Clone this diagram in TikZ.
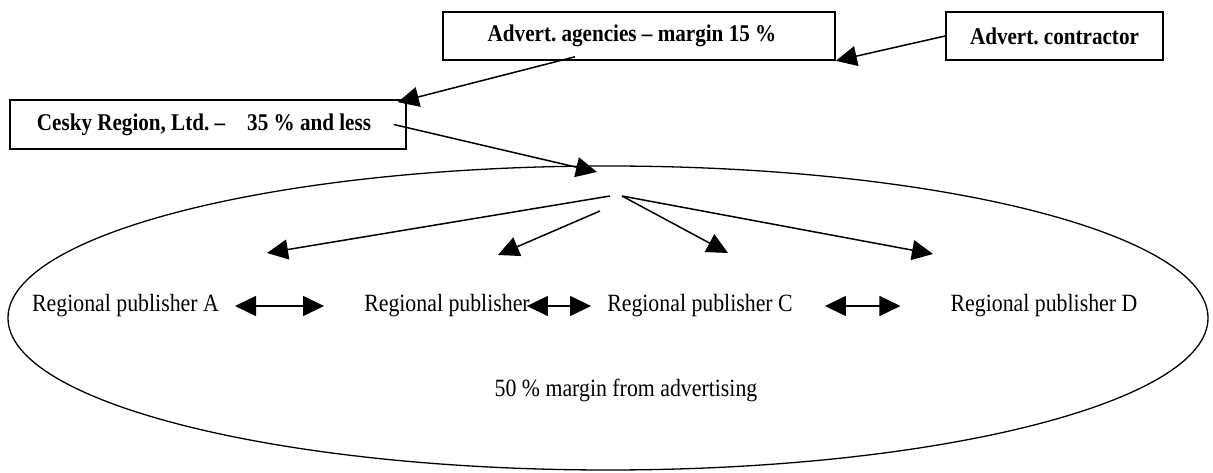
\documentclass[tikz,border=0pt]{standalone}
\usepackage{fontspec}
\setmainfont[FakeStretch=0.88]{Liberation Serif}
\usetikzlibrary{arrows.meta,shapes.geometric}
\frenchspacing

\begin{document}
\begin{tikzpicture}[x=1pt, y=-1pt,
    advbox/.style={rectangle, draw, line width=1.6pt, minimum height=48pt, inner sep=0pt,
                 font=\fontsize{24}{28}\selectfont\bfseries},
    pubtext/.style={inner sep=0pt, font=\fontsize{24.8}{29}\selectfont},
    arr/.style={-{Triangle[length=21pt, width=20pt]}, line width=1.5pt},
    dblarr/.style={{Triangle[length=21pt, width=20pt]}-{Triangle[length=21pt, width=20pt]}, line width=1.5pt},
]
    \useasboundingbox (0,0) rectangle (1213,473);

    % boxes at the top
    \node[advbox, minimum width=392pt] (agencies) at (639,36) {\hspace*{-14pt}Advert. agencies – margin 15 \%};
    \node[advbox, minimum width=217pt] (contractor) at (1054.5,36) {Advert. contractor};
    \node[advbox, minimum width=396pt, minimum height=49pt] (cesky) at (208,124.5)
        {\hspace*{-8pt}Cesky Region, Ltd. –\hspace{22pt}35 \% and less};

    % the region with the publishers
    \node[draw, ellipse, line width=1.3pt, minimum width=1200pt, minimum height=304pt] (region) at (608,318) {};
    \node[pubtext] (pubA) at (125.5,306) {Regional publisher A};
    \node[pubtext] (pubB) at (447,306) {Regional publisher};
    \node[pubtext] (pubC) at (700,306) {Regional publisher C};
    \node[pubtext] (pubD) at (1044,306) {Regional publisher D};
    \node[pubtext] (margin) at (626,390) {50~\% margin from advertising};

    \coordinate (inlet) at (597,172);
    \coordinate (hubA) at (610,196);
    \coordinate (hubB) at (600,211);
    \coordinate (hubC) at (622,196);
    \coordinate (tipA) at (267,253);
    \coordinate (tipB) at (498,255);
    \coordinate (tipC) at (728,253);
    \coordinate (tipD) at (933,254);

    \draw[arr] (contractor.west) -- (agencies.south east);
    \draw[arr] ([xshift=-64pt, yshift=4pt]agencies.south) -- ([xshift=-9pt, yshift=-3pt]cesky.north east);
    \draw[arr] ([xshift=-13pt]cesky.east) -- (inlet);

    \draw[arr] (hubA) -- (tipA);
    \draw[arr] (hubB) -- (tipB);
    \draw[arr] (hubC) -- (tipC);
    \draw[arr] (hubC) -- (tipD);

    \draw[dblarr] ([xshift=16pt]pubA.east) -- ([xshift=-40pt]pubB.west);
    \draw[dblarr] ([xshift=-3pt]pubB.east) -- ([xshift=-16pt]pubC.west);
    \draw[dblarr] ([xshift=32pt]pubC.east) -- ([xshift=-50pt]pubD.west);
\end{tikzpicture}
\end{document}
